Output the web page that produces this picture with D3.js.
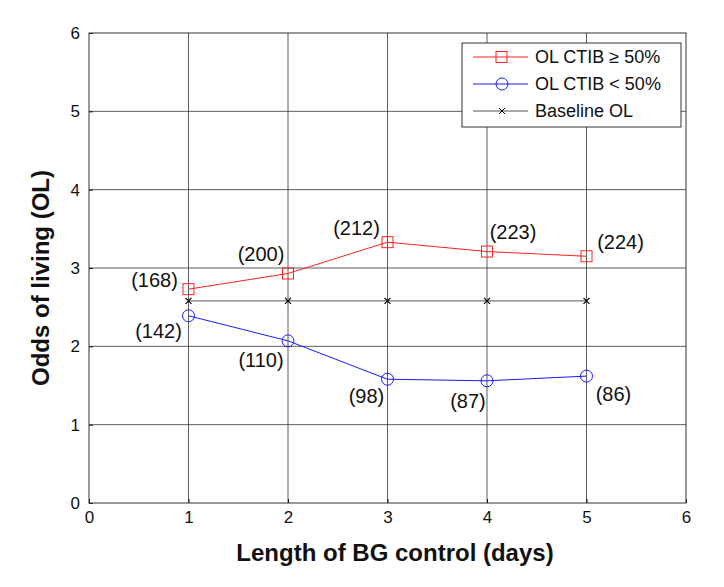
<!DOCTYPE html>
<html>
<head>
	<meta charset="utf-8">
	<title>Odds of living vs length of BG control</title>
	<style>
		body { margin: 0; background: #fff; }
		svg text { font-family: "Liberation Sans", Arial, Helvetica, sans-serif; fill: #111; }
	</style>
</head>
<body>
	<div id="chart"></div>
	<script src="https://cdn.jsdelivr.net/npm/d3@7/dist/d3.min.js"></script>
	<script>
		// data
		var days = [1, 2, 3, 4, 5];
		var olHigh = [2.73, 2.93, 3.33, 3.21, 3.15];   // OL CTIB >= 50%
		var olLow = [2.39, 2.07, 1.58, 1.56, 1.62];    // OL CTIB < 50%
		var baseline = [2.58, 2.58, 2.58, 2.58, 2.58]; // Baseline OL
		var countsHigh = ["(168)", "(200)", "(212)", "(223)", "(224)"];
		var countsLow = ["(142)", "(110)", "(98)", "(87)", "(86)"];
		var xTicks = [0, 1, 2, 3, 4, 5, 6];
		var yTicks = [0, 1, 2, 3, 4, 5, 6];
		var legendLabels = ["OL CTIB \u2265 50%", "OL CTIB < 50%", "Baseline OL"];

		// where each count label sits relative to its marker (px)
		var offHigh = [[-34, -9], [-27, -19], [-31, -14], [26, -20], [34, -14]];
		var offLow = [[-30, 15], [-27, 19], [-21, 17], [-19, 20], [27, 18]];

		var width = 724, height = 587;
		var margin = { left: 89, right: 38, top: 33, bottom: 84 };

		var svg = d3.select('#chart')
			.append('svg')
			.attr('width', width)
			.attr('height', height);

		var x = d3.scaleLinear().domain([0, 6]).range([margin.left, width - margin.right]);
		var y = d3.scaleLinear().domain([0, 6]).range([height - margin.bottom, margin.top]);

		// grid
		svg.append('g')
			.selectAll('line.vg')
			.data(xTicks.slice(1, -1))
			.enter().append('line')
			.attr('x1', function (d) { return x(d); })
			.attr('x2', function (d) { return x(d); })
			.attr('y1', y(0)).attr('y2', y(6))
			.style('stroke', '#333').style('stroke-width', 0.8);

		svg.append('g')
			.selectAll('line.hg')
			.data(yTicks.slice(1, -1))
			.enter().append('line')
			.attr('y1', function (d) { return y(d); })
			.attr('y2', function (d) { return y(d); })
			.attr('x1', x(0)).attr('x2', x(6))
			.style('stroke', '#333').style('stroke-width', 0.8);

		// axes (ticks inside, like matlab)
		var xAxis = svg.append('g')
			.attr('transform', 'translate(0,' + y(0) + ')')
			.call(d3.axisBottom(x).tickValues(xTicks).tickSize(-4).tickPadding(8).tickFormat(d3.format('d')));
		var yAxis = svg.append('g')
			.attr('transform', 'translate(' + x(0) + ',0)')
			.call(d3.axisLeft(y).tickValues(yTicks).tickSize(-4).tickPadding(9).tickFormat(d3.format('d')));
		[xAxis, yAxis].forEach(function (ax) {
			ax.select('.domain').remove();
			ax.selectAll('line').style('stroke', '#111');
			ax.selectAll('text').style('font-size', '17px').style('fill', '#111');
		});

		// box
		svg.append('rect')
			.attr('x', x(0)).attr('y', y(6))
			.attr('width', x(6) - x(0)).attr('height', y(0) - y(6))
			.style('fill', 'none').style('stroke', '#333').style('stroke-width', 1);

		var line = d3.line()
			.x(function (d) { return x(d[0]); })
			.y(function (d) { return y(d[1]); });

		function pairs(vals) {
			return days.map(function (d, i) { return [d, vals[i]]; });
		}

		// baseline
		svg.append('path')
			.datum(pairs(baseline))
			.attr('d', line)
			.style('fill', 'none').style('stroke', '#555').style('stroke-width', 1);
		svg.append('g').selectAll('path')
			.data(pairs(baseline))
			.enter().append('path')
			.attr('transform', function (d) { return 'translate(' + x(d[0]) + ',' + y(d[1]) + ')'; })
			.attr('d', 'M-3,-3L3,3M-3,3L3,-3')
			.style('stroke', '#000').style('stroke-width', 1.2);

		// red series
		svg.append('path')
			.datum(pairs(olHigh))
			.attr('d', line)
			.style('fill', 'none').style('stroke', '#ff2020').style('stroke-width', 1);
		svg.append('g').selectAll('rect')
			.data(pairs(olHigh))
			.enter().append('rect')
			.attr('x', function (d) { return x(d[0]) - 5.5; })
			.attr('y', function (d) { return y(d[1]) - 5.5; })
			.attr('width', 11).attr('height', 11)
			.style('fill', 'none').style('stroke', '#ff2020').style('stroke-width', 1);

		// blue series
		svg.append('path')
			.datum(pairs(olLow))
			.attr('d', line)
			.style('fill', 'none').style('stroke', '#1a1aff').style('stroke-width', 1);
		svg.append('g').selectAll('circle')
			.data(pairs(olLow))
			.enter().append('circle')
			.attr('cx', function (d) { return x(d[0]); })
			.attr('cy', function (d) { return y(d[1]); })
			.attr('r', 6)
			.style('fill', 'none').style('stroke', '#1a1aff').style('stroke-width', 1);

		// count labels
		function addLabels(vals, labels, offs) {
			svg.append('g').selectAll('text')
				.data(pairs(vals))
				.enter().append('text')
				.attr('x', function (d, i) { return x(d[0]) + offs[i][0]; })
				.attr('y', function (d, i) { return y(d[1]) + offs[i][1]; })
				.attr('text-anchor', 'middle')
				.attr('dominant-baseline', 'central')
				.style('font-size', '20px')
				.text(function (d, i) { return labels[i]; });
		}
		addLabels(olHigh, countsHigh, offHigh);
		addLabels(olLow, countsLow, offLow);

		// axis titles
		svg.append('text')
			.attr('x', 395)
			.attr('y', 561)
			.attr('text-anchor', 'middle')
			.style('font-size', '24px').style('font-weight', 'bold')
			.text('Length of BG control (days)');
		svg.append('text')
			.attr('transform', 'translate(49,278) rotate(-90)')
			.attr('text-anchor', 'middle')
			.style('font-size', '24px').style('font-weight', 'bold')
			.text('Odds of living (OL)');

		// legend
		var leg = svg.append('g').attr('transform', 'translate(462,43)');
		leg.append('rect')
			.attr('width', 219).attr('height', 84)
			.style('fill', '#fff').style('stroke', '#333').style('stroke-width', 1);
		var legColors = ['#ff2020', '#1a1aff', '#555'];
		legendLabels.forEach(function (lab, i) {
			var ly = 14 + i * 27;
			leg.append('line')
				.attr('x1', 11).attr('x2', 66).attr('y1', ly).attr('y2', ly)
				.style('stroke', legColors[i]).style('stroke-width', 1);
			if (i === 0) {
				leg.append('rect').attr('x', 34).attr('y', ly - 5.5).attr('width', 11).attr('height', 11)
					.style('fill', 'none').style('stroke', legColors[i]);
			} else if (i === 1) {
				leg.append('circle').attr('cx', 40).attr('cy', ly).attr('r', 6)
					.style('fill', 'none').style('stroke', legColors[i]);
			} else {
				leg.append('path').attr('transform', 'translate(40,' + ly + ')')
					.attr('d', 'M-3,-3L3,3M-3,3L3,-3').style('stroke', '#000');
			}
			leg.append('text')
				.attr('x', 73).attr('y', ly)
				.attr('dominant-baseline', 'central')
				.style('font-size', '18px')
				.text(lab);
		});
	</script>
</body>
</html>
